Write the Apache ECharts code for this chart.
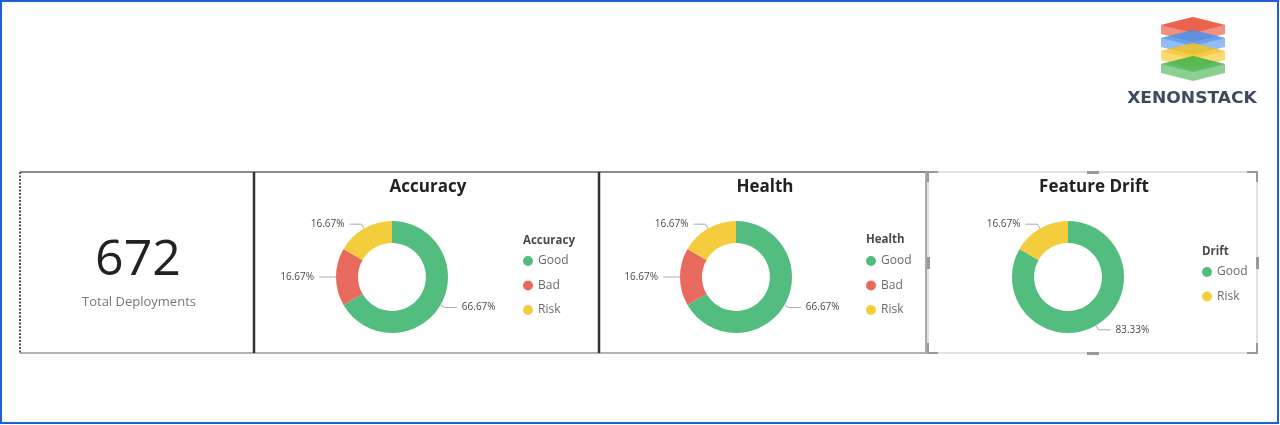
<!DOCTYPE html>
<html>
<head>
<meta charset="utf-8">
<script src="https://cdn.jsdelivr.net/npm/echarts@6/dist/echarts.min.js"></script>
<style>
html,body{margin:0;padding:0;background:#fff;}
#chart{width:1280px;height:425px;}
</style>
</head>
<body>
<div id="chart"></div>
<script>
// ---- data ----
const totalDeployments = 672;
const totalLabel = 'Total Deployments';
const panelTitles = ['Accuracy', 'Health', 'Feature Drift'];
const legendTitles = ['Accuracy', 'Health', 'Drift'];
const accuracyCategories = ['Good', 'Bad', 'Risk'];
const accuracyValues = [66.67, 16.67, 16.67];
const healthCategories = ['Good', 'Bad', 'Risk'];
const healthValues = [66.67, 16.67, 16.67];
const driftCategories = ['Good', 'Risk'];
const driftValues = [83.33, 16.67];
const brandName = 'XENONSTACK';

// ---- styles ----
const colorMap = { Good: '#52BD7F', Bad: '#E86A5E', Risk: '#F4CD3C' };
const FONT = '"Open Sans", "Liberation Sans", sans-serif';

const panels = [
  { cats: accuracyCategories, vals: accuracyValues, center: [392, 277], titleX: 428, legendX: 523, legendTop: 255, legendTitleTop: 235 },
  { cats: healthCategories, vals: healthValues, center: [736, 277], titleX: 765, legendX: 866, legendTop: 255, legendTitleTop: 234 },
  { cats: driftCategories, vals: driftValues, center: [1068, 277], titleX: 1094, legendX: 1202, legendTop: 266, legendTitleTop: 246 }
];

const titles = [];
const legends = [];
const series = [];
panels.forEach((p, i) => {
  titles.push({
    text: panelTitles[i], left: p.titleX, top: 179, textAlign: 'center', padding: 0,
    textStyle: { fontSize: 17, fontWeight: 'bold', color: '#222', fontFamily: FONT }
  });
  titles.push({
    text: legendTitles[i], left: p.legendX, top: p.legendTitleTop, padding: 0,
    textStyle: { fontSize: 11.5, fontWeight: 'bold', color: '#4a4a4a', fontFamily: FONT }
  });
  legends.push({
    data: p.cats, orient: 'vertical', left: p.legendX, top: p.legendTop, padding: 0,
    itemWidth: 10, itemHeight: 10, itemGap: 12.5, icon: 'circle', selectedMode: false,
    textStyle: { fontSize: 12, color: '#6a6a6a', fontFamily: FONT }
  });
  series.push({
    type: 'pie', name: panelTitles[i], center: p.center, radius: [34, 56],
    startAngle: 90, clockwise: true, avoidLabelOverlap: false,
    data: p.cats.map((c, k) => ({ name: c, value: p.vals[k], itemStyle: { color: colorMap[c] } })),
    label: {
      show: true, position: 'outside',
      formatter: (d) => d.value.toFixed(2) + '%',
      fontSize: 10, color: '#4a4a4a', fontFamily: FONT
    },
    labelLine: { show: true, length: 5, length2: 12, smooth: false, lineStyle: { color: '#aaa', width: 1 } },
    emphasis: { disabled: true }
  });
});

// logo layers (decoration)
function slabPts(cx, y, hw, hh, t) {
  return [[cx, y], [cx + hw, y + hh], [cx + hw, y + hh + t], [cx, y + 2 * hh + t], [cx - hw, y + hh + t], [cx - hw, y + hh]];
}
function facePts(cx, y, hw, hh) {
  return [[cx, y], [cx + hw, y + hh], [cx, y + 2 * hh], [cx - hw, y + hh]];
}
const logoColors = ['#E8452C', '#4A8FEF', '#F6C21C', '#3DB048'];
const logoEls = [];
logoColors.forEach((c, i) => {
  const y = 17 + i * 13;
  logoEls.push({ type: 'polygon', shape: { points: slabPts(1193, y, 32, 8, 9) }, style: { fill: c, opacity: 0.6 } });
  logoEls.push({ type: 'polygon', shape: { points: facePts(1193, y, 32, 8) }, style: { fill: c, opacity: 0.6 } });
});

const border = '#8a8a8a';
const graphics = [
  { type: 'rect', shape: { x: 1, y: 1, width: 1277, height: 422 }, style: { fill: 'none', stroke: '#1F5FD6', lineWidth: 2 } },
  { type: 'line', shape: { x1: 20, y1: 172, x2: 927, y2: 172 }, style: { stroke: border, lineWidth: 2 } },
  { type: 'line', shape: { x1: 20, y1: 353, x2: 927, y2: 353 }, style: { stroke: '#b3b3b3', lineWidth: 2 } },
  { type: 'line', shape: { x1: 20, y1: 172, x2: 20, y2: 353 }, style: { stroke: '#555', lineWidth: 2, lineDash: [2, 1.5] } },
  { type: 'line', shape: { x1: 254, y1: 172, x2: 254, y2: 353 }, style: { stroke: '#333', lineWidth: 2.5 } },
  { type: 'line', shape: { x1: 599, y1: 172, x2: 599, y2: 353 }, style: { stroke: '#333', lineWidth: 2.5 } },
  { type: 'line', shape: { x1: 926, y1: 172, x2: 926, y2: 353 }, style: { stroke: '#aaa', lineWidth: 2 } },
  { type: 'rect', shape: { x: 928, y: 172, width: 329, height: 181 }, style: { fill: 'none', stroke: '#e2e2e2', lineWidth: 2 } },
  { type: 'polyline', shape: { points: [[928, 182], [928, 172], [938, 172]] }, style: { stroke: '#999', lineWidth: 2, fill: 'none' } },
  { type: 'polyline', shape: { points: [[1247, 172], [1257, 172], [1257, 182]] }, style: { stroke: '#999', lineWidth: 2, fill: 'none' } },
  { type: 'polyline', shape: { points: [[928, 343], [928, 353], [938, 353]] }, style: { stroke: '#999', lineWidth: 2, fill: 'none' } },
  { type: 'polyline', shape: { points: [[1247, 353], [1257, 353], [1257, 343]] }, style: { stroke: '#999', lineWidth: 2, fill: 'none' } },
  { type: 'rect', shape: { x: 1087, y: 171, width: 12, height: 3 }, style: { fill: '#999' } },
  { type: 'rect', shape: { x: 1087, y: 352, width: 12, height: 3 }, style: { fill: '#999' } },
  { type: 'rect', shape: { x: 927, y: 257, width: 3, height: 12 }, style: { fill: '#999' } },
  { type: 'rect', shape: { x: 1256, y: 257, width: 3, height: 12 }, style: { fill: '#999' } },
  { type: 'text', x: 138, y: 261, style: { text: String(totalDeployments), fill: '#222', font: '50px ' + FONT, textAlign: 'center', textVerticalAlign: 'middle' } },
  { type: 'text', x: 139, y: 302, style: { text: totalLabel, fill: '#777', font: '13px ' + FONT, textAlign: 'center', textVerticalAlign: 'middle' } },
  { type: 'group', children: logoEls },
  { type: 'text', x: 1192, y: 99, scaleX: 1.14, originX: 0, originY: 0, style: { text: brandName, fill: '#3E4B5E', font: 'bold 15px "DejaVu Sans", sans-serif', textAlign: 'center', textVerticalAlign: 'middle' } }
];

const chart = echarts.init(document.getElementById('chart'), null, { renderer: 'canvas' });
chart.setOption({
  animation: false,
  backgroundColor: '#fff',
  title: titles,
  legend: legends,
  series: series,
  graphic: graphics
});
</script>
</body>
</html>
